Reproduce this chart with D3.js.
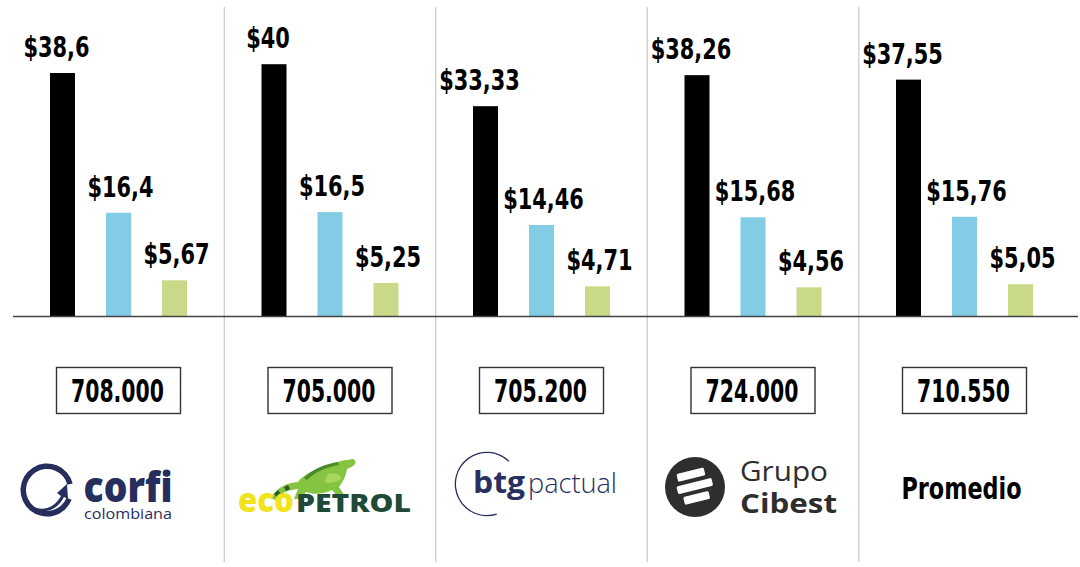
<!DOCTYPE html>
<html>
<head>
<meta charset="utf-8">
<script src="https://cdn.jsdelivr.net/npm/d3@7"></script>
<style>
  body { margin: 0; background: #fff; }
  svg { display: block; }
</style>
</head>
<body>
<script>
const width = 1080;
const height = 567;

// datos
const empresas = ["Corficolombiana", "Ecopetrol", "BTG Pactual", "Grupo Cibest", "Promedio"];
const serieNegra = [38.6, 40, 33.33, 38.26, 37.55];
const serieAzul = [16.4, 16.5, 14.46, 15.68, 15.76];
const serieVerde = [5.67, 5.25, 4.71, 4.56, 5.05];
const cajas = ["708.000", "705.000", "705.200", "724.000", "710.550"];

const series = [serieNegra, serieAzul, serieVerde];
const colores = ["#000000", "#82cde5", "#c8da88"];

const baseY = 316;
const fuenteCond = "'DejaVu Sans Condensed', 'DejaVu Sans', sans-serif";

const svg = d3.select("body").append("svg")
    .attr("width", width)
    .attr("height", height);

const x = d3.scaleBand()
    .domain(empresas)
    .range([12.75, 1070.25])
    .padding(0);

const xSub = d3.scalePoint()
    .domain([0, 1, 2])
    .range([-56, 56]);

const y = d3.scaleLinear()
    .domain([0, 40])
    .range([baseY, baseY - 251.8]);

const barW = 25;
const centro = d => x(d) + x.bandwidth() / 2;

// separadores verticales
svg.append("g")
    .selectAll("line")
    .data(empresas.slice(1))
    .enter().append("line")
    .attr("x1", d => x(d))
    .attr("x2", d => x(d))
    .attr("y1", 7)
    .attr("y2", 562)
    .attr("stroke", "#c9c9c9")
    .attr("stroke-width", 1.2);

// barras
const filas = [];
empresas.forEach((e, i) => {
    series.forEach((s, j) => {
        filas.push({ empresa: e, serie: j, valor: s[i] });
    });
});

svg.append("g")
    .selectAll("rect")
    .data(filas)
    .enter().append("rect")
    .attr("x", d => centro(d.empresa) + xSub(d.serie) - barW / 2)
    .attr("y", d => y(d.valor))
    .attr("width", barW)
    .attr("height", d => y(0) - y(d.valor))
    .attr("fill", d => colores[d.serie]);

// etiquetas de valor
const fmt = v => "$" + String(v).replace(".", ",");

svg.append("g")
    .selectAll("text")
    .data(filas)
    .enter().append("text")
    .attr("transform", d => {
        const tx = centro(d.empresa) + xSub(d.serie) + (d.serie === 0 ? -6 : 2);
        return `translate(${tx},${y(d.valor) - 16}) scale(0.8,1)`;
    })
    .attr("text-anchor", "middle")
    .style("font-family", fuenteCond)
    .style("font-weight", "bold")
    .style("font-size", "29px")
    .attr("fill", "#000")
    .text(d => fmt(d.valor));

// linea base
svg.append("line")
    .attr("x1", 13)
    .attr("x2", 1078)
    .attr("y1", y(0) + 0.5)
    .attr("y2", y(0) + 0.5)
    .attr("stroke", "#444")
    .attr("stroke-width", 1.4);

// cajas con cifras
const caja = svg.append("g")
    .selectAll("g")
    .data(empresas)
    .enter().append("g")
    .attr("transform", d => `translate(${centro(d)},0)`);

caja.append("rect")
    .attr("x", -62)
    .attr("y", 367.5)
    .attr("width", 124)
    .attr("height", 46)
    .attr("fill", "#fff")
    .attr("stroke", "#333")
    .attr("stroke-width", 1.4);

caja.append("text")
    .attr("transform", "translate(-1,402) scale(0.72,1)")
    .attr("text-anchor", "middle")
    .style("font-family", fuenteCond)
    .style("font-weight", "bold")
    .style("font-size", "31.5px")
    .attr("fill", "#000")
    .text((d, i) => cajas[i]);

// logos
const logo = svg.append("g");

// corficolombiana
const cx1 = centro(empresas[0]);
const navy = "#262e5d";
logo.append("path")
    .attr("transform", `translate(${cx1 - 71.5},490)`)
    .attr("d", d3.arc().innerRadius(21).outerRadius(26.5).startAngle(0.62 * Math.PI).endAngle(2.42 * Math.PI)())
    .attr("fill", navy);
logo.append("path")
    .attr("transform", `translate(${cx1 - 71.5},490)`)
    .attr("d", "M-22,6 C-16,22 4,24 14,6 L10,3 L20,-6 L21,9 L17,7 C6,28 -18,24 -22,6 Z")
    .attr("fill", navy);
logo.append("text")
    .attr("x", cx1 - 35)
    .attr("y", 502)
    .attr("textLength", 89)
    .attr("lengthAdjust", "spacingAndGlyphs")
    .style("font-family", "'Open Sans', sans-serif")
    .style("font-weight", "800")
    .style("font-size", "42px")
    .attr("fill", navy)
    .text("corfi");
logo.append("text")
    .attr("x", cx1 - 34.5)
    .attr("y", 518.5)
    .attr("textLength", 88)
    .attr("lengthAdjust", "spacingAndGlyphs")
    .style("font-family", "'Open Sans', sans-serif")
    .style("font-size", "15px")
    .attr("fill", navy)
    .text("colombiana");

// ecopetrol
const cx2 = centro(empresas[1]);
const verdeOsc = "#1f4a38";
const iguana = logo.append("g").attr("transform", `translate(${cx2},0)`);
iguana.append("path")
    .attr("d", "M-59,498 C-54,488 -44,483 -32,482 C-26,474 -14,468 -2,467 C6,462 12,460 18,460 L22,459 C26,459 27,463 23,466 L17,469 C16,476 13,482 9,487 L15,496 L8,497 L2,490 C-6,494 -16,495 -24,492 L-29,499 L-36,499 L-32,489 C-42,490 -50,493 -55,500 Z")
    .attr("fill", "#84c440");
iguana.append("path")
    .attr("d", "M-26,478 C-16,468 -4,464 8,462 L9,465 C-3,467 -14,471 -23,480 Z")
    .attr("fill", "#4b8a2c");
iguana.append("path")
    .attr("d", "M-56,494 L-52,490 L-49,494 L-53,497 Z M-46,487 L-42,485 L-40,489 L-44,491 Z")
    .attr("fill", "#2c5a2a");
iguana.append("path")
    .attr("d", "M-2,474 C4,472 10,474 12,478 C8,482 0,484 -6,482 Z")
    .attr("fill", "#a6d65a");
logo.append("text")
    .attr("x", cx2 - 92)
    .attr("y", 512)
    .attr("textLength", 56)
    .attr("lengthAdjust", "spacingAndGlyphs")
    .style("font-family", "'Open Sans', sans-serif")
    .style("font-weight", "800")
    .style("font-size", "34px")
    .attr("fill", "#f1e31d")
    .text("eco");
logo.append("text")
    .attr("x", cx2 - 34)
    .attr("y", 512)
    .attr("textLength", 115)
    .attr("lengthAdjust", "spacingAndGlyphs")
    .style("font-family", "'Open Sans', sans-serif")
    .style("font-weight", "800")
    .style("font-size", "24px")
    .attr("fill", verdeOsc)
    .text("PETROL");

// btg pactual
const cx3 = centro(empresas[2]);
const navy2 = "#27305e";
logo.append("path")
    .attr("transform", `translate(${cx3 - 54.5},484)`)
    .attr("d", d3.arc().innerRadius(31).outerRadius(32.3).startAngle(2.83).endAngle(7.05)())
    .attr("fill", navy2);
logo.append("text")
    .attr("x", cx3 - 68.5)
    .attr("y", 493)
    .attr("textLength", 52)
    .attr("lengthAdjust", "spacingAndGlyphs")
    .style("font-family", "'Open Sans', sans-serif")
    .style("font-weight", "bold")
    .style("font-size", "30px")
    .attr("fill", navy2)
    .text("btg");
logo.append("text")
    .attr("x", cx3 - 13.5)
    .attr("y", 493)
    .attr("textLength", 89)
    .attr("lengthAdjust", "spacingAndGlyphs")
    .style("font-family", "'Open Sans', sans-serif")
    .style("font-weight", "300")
    .style("font-size", "28px")
    .attr("fill", navy2)
    .text("pactual");

// grupo cibest
const cx4 = centro(empresas[3]);
const gris = "#2e2e2e";
logo.append("circle")
    .attr("cx", cx4 - 58)
    .attr("cy", 487)
    .attr("r", 30)
    .attr("fill", gris);
const barrasCib = [[-13, 28], [-1, 36], [11, 26]];
logo.append("g")
    .attr("transform", `translate(${cx4 - 58},487) rotate(-14)`)
    .selectAll("rect")
    .data(barrasCib)
    .enter().append("rect")
    .attr("x", (d, i) => -d[1] / 2 + (i === 1 ? 0 : -1))
    .attr("y", d => d[0] - 4)
    .attr("width", d => d[1])
    .attr("height", 8)
    .attr("rx", 1.5)
    .attr("fill", "#fff");
logo.append("text")
    .attr("x", cx4 - 13)
    .attr("y", 481)
    .attr("textLength", 88)
    .attr("lengthAdjust", "spacingAndGlyphs")
    .style("font-family", "'Open Sans', sans-serif")
    .style("font-size", "27px")
    .attr("fill", gris)
    .text("Grupo");
logo.append("text")
    .attr("x", cx4 - 13)
    .attr("y", 513)
    .attr("textLength", 97)
    .attr("lengthAdjust", "spacingAndGlyphs")
    .style("font-family", "'Open Sans', sans-serif")
    .style("font-weight", "bold")
    .style("font-size", "26px")
    .attr("fill", gris)
    .text("Cibest");

// promedio
logo.append("text")
    .attr("transform", `translate(${centro(empresas[4]) - 3},499) scale(0.8,1)`)
    .attr("text-anchor", "middle")
    .style("font-family", fuenteCond)
    .style("font-weight", "bold")
    .style("font-size", "31px")
    .attr("fill", "#000")
    .text("Promedio");
</script>
</body>
</html>
